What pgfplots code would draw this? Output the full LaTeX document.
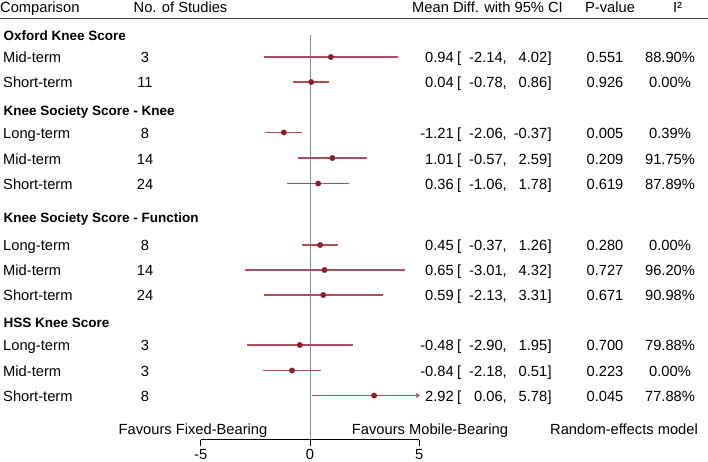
\documentclass[border=0pt]{standalone}
\usepackage{pgfplots}
\pgfplotsset{compat=1.18}
\usetikzlibrary{arrows.meta}
\usepackage{fontspec}
\setmainfont{Liberation Sans}
\definecolor{ciline}{RGB}{176,76,86}
\definecolor{cimark}{RGB}{140,32,42}
\definecolor{zeroline}{RGB}{140,140,140}
\newcommand{\rg}{\fontsize{14.7}{16}\selectfont}
\newcommand{\bd}{\fontsize{13.5}{15}\selectfont\bfseries}
\newcommand{\row}[8]{%
 \node[anchor=base west, inner sep=0] at (3,{462-#1}) {\rg #2};
 \node[anchor=base, inner sep=0] at (145,{462-#1}) {\rg #3};
 \node[anchor=base east, inner sep=0] at (454,{462-#1}) {\rg #4};
 \node[anchor=base west, inner sep=0] at (457,{462-#1}) {\rg [};
 \node[anchor=base east, inner sep=0] at (507,{462-#1}) {\rg #5,};
 \node[anchor=base east, inner sep=0] at (547.5,{462-#1}) {\rg #6};
 \node[anchor=base west, inner sep=0] at (547.5,{462-#1}) {\rg ]};
 \node[anchor=base, inner sep=0] at (605,{462-#1}) {\rg #7};
 \node[anchor=base, inner sep=0] at (670,{462-#1}) {\rg #8\%};
}
\newcommand{\head}[2]{\node[anchor=base west, inner sep=0] at (3.5,{462-#1}) {\bd #2};}
\begin{document}
\begin{tikzpicture}[x=1pt,y=1pt]
\useasboundingbox (0,0) rectangle (708,462);
\begin{axis}[at={(0pt,0pt)}, anchor=south west, scale only axis,
  width=708pt, height=462pt,
  xmin=-14.195, xmax=18.193, ymin=0, ymax=462, y dir=reverse,
  hide axis, clip=false]
\draw[zeroline, line width=1pt] (axis cs:0,35) -- (axis cs:0,440);
% confidence intervals (lower, upper) at row positions
\addplot[ciline, line width=1.2pt] coordinates {(-2.14,57) (4.02,57)};
\addplot[ciline, line width=1.2pt] coordinates {(-0.78,82) (0.86,82)};
\addplot[ciline, line width=1.2pt] coordinates {(-2.06,132.5) (-0.37,132.5)};
\addplot[ciline, line width=1.2pt] coordinates {(-0.57,158) (2.59,158)};
\addplot[ciline, line width=1.2pt] coordinates {(-1.06,183.5) (1.78,183.5)};
\addplot[ciline, line width=1.2pt] coordinates {(-0.37,245) (1.26,245)};
\addplot[ciline, line width=1.2pt] coordinates {(-3.01,270) (4.32,270)};
\addplot[ciline, line width=1.2pt] coordinates {(-2.13,295) (3.31,295)};
\addplot[ciline, line width=1.2pt] coordinates {(-2.90,345) (1.95,345)};
\addplot[ciline, line width=1.2pt] coordinates {(-2.18,370.5) (0.51,370.5)};
% upper limit 5.78 lies beyond the plotted range: drawn to 5 with an arrow
\addplot[ciline, line width=1.1pt, -{To[length=4pt,width=5pt]}] coordinates {(0.06,395.5) (5,395.5)};
% point estimates
\addplot[only marks, mark=*, mark size=2.7pt, cimark] coordinates {
(0.94,57) (0.04,82) (-1.21,132.5) (1.01,158) (0.36,183.5)
(0.45,245) (0.65,270) (0.59,295) (-0.48,345) (-0.84,370.5) (2.92,395.5)};
\end{axis}
% bottom scale
\begin{axis}[at={(200.7pt,22pt)}, anchor=south west, scale only axis,
  width=218.6pt, height=10pt, xmin=-5, xmax=5, ymin=0, ymax=1,
  hide y axis, axis x line*=bottom, x axis line style={-, line width=1pt, black},
  xtick={-5,0,5}, xticklabels={\mbox{-5},\mbox{0},\mbox{5}},
  xtick pos=lower, xtick align=outside, major tick length=6pt,
  tick style={black, line width=1pt},
  xticklabel style={font=\rg, inner sep=2pt, yshift=-1pt}]
\end{axis}
% header
\node[anchor=base west, inner sep=0] at (0,449.5) {\rg Comparison};
\node[anchor=base, inner sep=0] at (180.5,449.5) {\rg No. of Studies};
\node[anchor=base, inner sep=0] at (487.5,449.5) {\rg Mean Diff. with 95\% CI};
\node[anchor=base, inner sep=0] at (610,449.5) {\rg P-value};
\node[anchor=base, inner sep=0] at (677.5,449.5) {\rg I²};
\draw[line width=1.5pt, black!75] (0,443.5) -- (708,443.5);
% rows
\head{40.5}{Oxford Knee Score}
\row{62.5}{Mid-term}{3}{0.94}{-2.14}{4.02}{0.551}{88.90}
\row{87.5}{Short-term}{11}{0.04}{-0.78}{0.86}{0.926}{0.00}
\head{115.5}{Knee Society Score - Knee}
\row{138.3}{Long-term}{8}{-1.21}{-2.06}{-0.37}{0.005}{0.39}
\row{164.1}{Mid-term}{14}{1.01}{-0.57}{2.59}{0.209}{91.75}
\row{189.1}{Short-term}{24}{0.36}{-1.06}{1.78}{0.619}{87.89}
\head{222.5}{Knee Society Score - Function}
\row{250.8}{Long-term}{8}{0.45}{-0.37}{1.26}{0.280}{0.00}
\row{275.8}{Mid-term}{14}{0.65}{-3.01}{4.32}{0.727}{96.20}
\row{300.8}{Short-term}{24}{0.59}{-2.13}{3.31}{0.671}{90.98}
\head{327.5}{HSS Knee Score}
\row{350.8}{Long-term}{3}{-0.48}{-2.90}{1.95}{0.700}{79.88}
\row{376.5}{Mid-term}{3}{-0.84}{-2.18}{0.51}{0.223}{0.00}
\row{401.5}{Short-term}{8}{2.92}{0.06}{5.78}{0.045}{77.88}
% footer
\node[anchor=base, inner sep=0] at (193,27) {\rg Favours Fixed-Bearing};
\node[anchor=base, inner sep=0] at (430,27) {\rg Favours Mobile-Bearing};
\node[anchor=base, inner sep=0] at (624,27) {\rg Random-effects model};
\end{tikzpicture}
\end{document}
